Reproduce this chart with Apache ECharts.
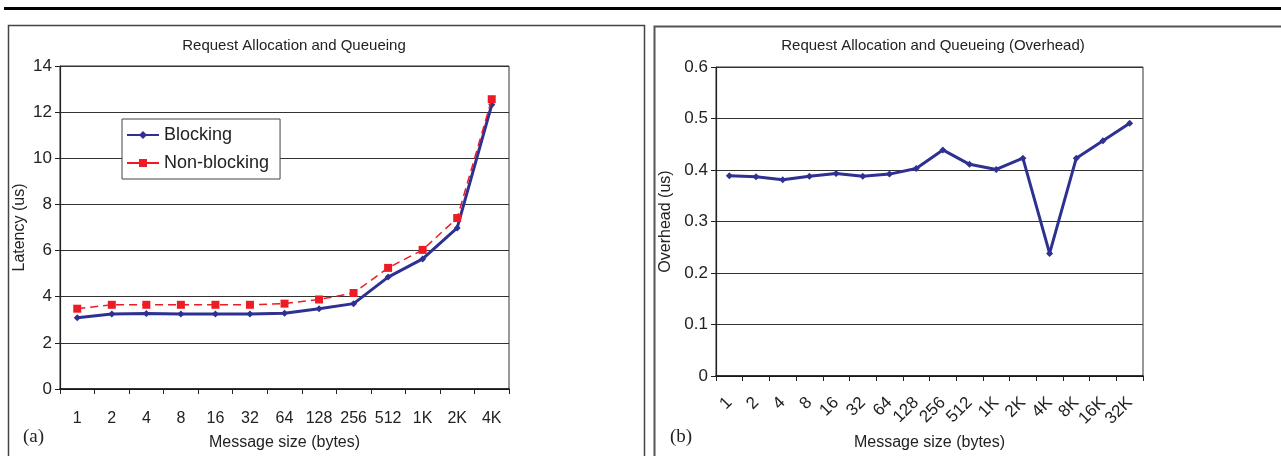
<!DOCTYPE html>
<html>
<head>
<meta charset="utf-8">
<script src="https://cdn.jsdelivr.net/npm/echarts@6/dist/echarts.min.js"></script>
<style>
html,body{margin:0;padding:0;background:#fff;}
#chart{width:1281px;height:456px;}
</style>
</head>
<body>
<div id="chart"></div>
<script>
// Data
const sizesA = ['1','2','4','8','16','32','64','128','256','512','1K','2K','4K'];
const blocking = [3.09,3.25,3.27,3.25,3.25,3.25,3.28,3.48,3.70,4.85,5.64,6.98,12.32];
const nonBlocking = [3.48,3.65,3.65,3.65,3.65,3.65,3.70,3.88,4.16,5.25,6.03,7.41,12.56];
const sizesB = ['1','2','4','8','16','32','64','128','256','512','1K','2K','4K','8K','16K','32K'];
const overhead = [0.389,0.387,0.381,0.388,0.393,0.388,0.392,0.403,0.439,0.411,0.401,0.423,0.238,0.423,0.457,0.491];

const FONT = '"Liberation Sans", Arial, sans-serif';
const BLUE = '#2E3192';
const RED = '#ED1C24';
const chart = echarts.init(document.getElementById('chart'));

const catAxis = (data, gi, rotate) => ({
  type: 'category', gridIndex: gi, data: data, boundaryGap: true,
  axisLine: {show: true, lineStyle: {color: '#111', width: 1.5}},
  axisTick: {show: true, length: 5, alignWithLabel: false, lineStyle: {color: '#222'}},
  axisLabel: {color: '#222', fontFamily: FONT, fontSize: rotate ? 17 : 16, margin: rotate ? 24 : 22, rotate: rotate, interval: 0},
  name: 'Message size (bytes)', nameLocation: 'middle', nameGap: rotate ? 59 : 46,
  nameTextStyle: {color: '#222', fontFamily: FONT, fontSize: 16}
});
const valAxis = (gi, max, interval, name, gap) => ({
  type: 'value', gridIndex: gi, min: 0, max: max, interval: interval,
  axisLine: {show: true, lineStyle: {color: '#222', width: 1.2}},
  axisTick: {show: true, length: 5, lineStyle: {color: '#222'}},
  axisLabel: {color: '#222', fontFamily: FONT, fontSize: 17, margin: 8},
  splitLine: {show: true, lineStyle: {color: '#333', width: 1}},
  name: name, nameLocation: 'middle', nameGap: gap, nameRotate: 90,
  nameTextStyle: {color: '#222', fontFamily: FONT, fontSize: 16}
});

chart.setOption({
  animation: false,
  backgroundColor: '#fff',
  title: [
    {text: 'Request Allocation and Queueing', left: 289, top: 33, textAlign: 'center',
     textStyle: {fontFamily: FONT, fontSize: 15, fontWeight: 'normal', color: '#222'}},
    {text: 'Request Allocation and Queueing (Overhead)', left: 928, top: 33, textAlign: 'center',
     textStyle: {fontFamily: FONT, fontSize: 15, fontWeight: 'normal', color: '#222'}}
  ],
  legend: {
    left: 122, top: 119, orient: 'vertical', padding: [7, 11, 7, 4],
    borderColor: '#444', borderWidth: 1, backgroundColor: '#fff',
    itemWidth: 32, itemHeight: 10, itemGap: 10,
    lineStyle: {type: 'solid'},
    textStyle: {fontFamily: FONT, fontSize: 18, color: '#222'},
    data: ['Blocking', 'Non-blocking']
  },
  grid: [
    {left: 60, top: 66, width: 449, height: 324, show: true, borderColor: '#333', borderWidth: 1, backgroundColor: 'transparent'},
    {left: 716, top: 67, width: 427, height: 311, show: true, borderColor: '#333', borderWidth: 1, backgroundColor: 'transparent'}
  ],
  xAxis: [catAxis(sizesA, 0, 0), catAxis(sizesB, 1, 45)],
  yAxis: [valAxis(0, 14, 2, 'Latency (us)', 32), valAxis(1, 0.6, 0.1, 'Overhead (us)', 42)],
  series: [
    {name: 'Blocking', type: 'line', xAxisIndex: 0, yAxisIndex: 0, data: blocking,
     symbol: 'diamond', symbolSize: 7, lineStyle: {color: BLUE, width: 3}, itemStyle: {color: BLUE}, z: 3},
    {name: 'Non-blocking', type: 'line', xAxisIndex: 0, yAxisIndex: 0, data: nonBlocking,
     symbol: 'rect', symbolSize: 8, lineStyle: {color: RED, width: 1.5, type: [8, 5]}, itemStyle: {color: RED}, z: 4},
    {name: 'Overhead', type: 'line', xAxisIndex: 1, yAxisIndex: 1, data: overhead,
     symbol: 'diamond', symbolSize: 7, lineStyle: {color: BLUE, width: 3}, itemStyle: {color: BLUE}}
  ],
  graphic: [
    {type: 'rect', shape: {x: 4, y: 7, width: 1290, height: 3}, style: {fill: '#000'}},
    {type: 'rect', shape: {x: 8.5, y: 25.5, width: 636, height: 450}, style: {fill: 'none', stroke: '#444', lineWidth: 1.5}},
    {type: 'rect', shape: {x: 654.5, y: 26.5, width: 650, height: 450}, style: {fill: 'none', stroke: '#555', lineWidth: 2}},
    {type: 'text', left: 23, top: 428, style: {text: '(a)', font: '19px "Liberation Serif", "DejaVu Serif", serif', fill: '#222'}},
    {type: 'text', left: 670, top: 428, style: {text: '(b)', font: '19px "Liberation Serif", "DejaVu Serif", serif', fill: '#222'}}
  ]
});
</script>
</body>
</html>
